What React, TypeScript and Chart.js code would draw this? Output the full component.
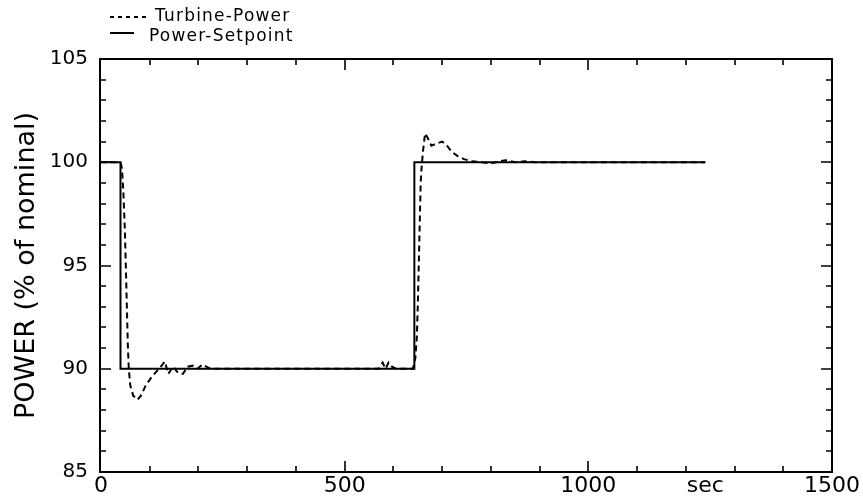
import React, { useEffect, useRef } from "react";
import { Chart, registerables } from "chart.js";

Chart.register(...registerables);

// ---- data ----
const setpointTime = [0, 40, 40, 643, 643, 1240];
const setpointValue = [100, 100, 90, 90, 100, 100];

const turbineTime = [
  0, 40, 43, 46, 49, 52, 55, 57, 60, 66, 75, 82, 92, 104, 115, 126, 131, 138,
  148, 158, 168, 178, 188, 198, 208, 225, 570, 578, 584, 590, 597, 605, 640,
  645, 648, 650, 652, 654, 656, 658, 661, 665, 670, 678, 688, 700, 710, 720,
  732, 745, 760, 780, 800, 830, 850, 870, 890, 1240,
];
const turbineValue = [
  100, 100, 99.7, 98.5, 96.7, 94, 91.2, 90, 89.2, 88.7, 88.5, 88.7, 89.2, 89.6,
  89.9, 90.2, 90.35, 89.75, 90.1, 89.8, 89.75, 90.1, 90.15, 90.0, 90.2, 90.0,
  90.0, 90.3, 90.0, 90.3, 90.1, 90.0, 90.0, 90.5, 91.5, 93, 95, 97, 99, 99.8,
  100.6, 101.4, 101.2, 100.8, 100.9, 101.0, 100.8, 100.5, 100.3, 100.15,
  100.05, 100.0, 99.95, 100.1, 100.0, 100.05, 100.0, 100.0,
];

const xTickValues = [0, 500, 1000, 1240, 1500];
const xTickLabels = ["0", "500", "1000", "sec", "1500"];
const yTickValues = [85, 90, 95, 100, 105];
const legendLabels = ["Turbine-Power", "Power-Setpoint"];
const yAxisTitle = "POWER (% of nominal)";

const FONT = "'DejaVu Sans', 'Liberation Sans', sans-serif";

const framePlugin = {
  id: "frameTicksLegend",
  afterDraw(chart: any) {
    const { ctx, chartArea, scales } = chart;
    const { left, right, top, bottom } = chartArea;
    const xs = scales.x;
    const ys = scales.y;
    ctx.save();
    ctx.strokeStyle = "#000";
    ctx.lineWidth = 2;
    ctx.setLineDash([]);
    ctx.strokeRect(left - 1, top, right - left + 1, bottom - top);

    ctx.lineWidth = 1.6;
    ctx.beginPath();
    for (let v = 100; v < 1500; v += 100) {
      const px = Math.round(xs.getPixelForValue(v));
      const len = v % 500 === 0 ? 11 : 6;
      ctx.moveTo(px, bottom);
      ctx.lineTo(px, bottom - len);
      ctx.moveTo(px, top);
      ctx.lineTo(px, top + len);
    }
    for (let v = 86; v < 105; v += 1) {
      const py = Math.round(ys.getPixelForValue(v));
      const len = v % 5 === 0 ? 11 : 6;
      ctx.moveTo(left - 1, py);
      ctx.lineTo(left - 1 + len, py);
      ctx.moveTo(right, py);
      ctx.lineTo(right - len, py);
    }
    ctx.stroke();

    // legend
    ctx.lineWidth = 2;
    ctx.setLineDash([4, 4]);
    ctx.beginPath();
    ctx.moveTo(110, 17);
    ctx.lineTo(148, 17);
    ctx.stroke();
    ctx.setLineDash([]);
    ctx.beginPath();
    ctx.moveTo(110, 33);
    ctx.lineTo(134, 33);
    ctx.stroke();
    ctx.fillStyle = "#000";
    ctx.font = `17px ${FONT}`;
    (ctx as any).letterSpacing = "1.2px";
    ctx.textBaseline = "alphabetic";
    ctx.textAlign = "left";
    ctx.fillText(legendLabels[0], 155, 21);
    ctx.fillText(legendLabels[1], 149, 41);
    ctx.restore();
  },
};

export default function App() {
  const canvasRef = useRef<HTMLCanvasElement | null>(null);

  useEffect(() => {
    document.body.style.margin = "0";
    const canvas = canvasRef.current;
    if (!canvas) return;
    const chart = new Chart(canvas, {
      type: "line",
      data: {
        datasets: [
          {
            label: legendLabels[1],
            data: setpointTime.map((t, i) => ({ x: t, y: setpointValue[i] })),
            borderColor: "#000",
            borderWidth: 2,
            pointRadius: 0,
            tension: 0,
            fill: false,
          },
          {
            label: legendLabels[0],
            data: turbineTime.map((t, i) => ({ x: t, y: turbineValue[i] })),
            borderColor: "#000",
            borderWidth: 2,
            borderDash: [6, 4],
            pointRadius: 0,
            tension: 0,
            fill: false,
          },
        ],
      },
      options: {
        animation: false,
        responsive: false,
        maintainAspectRatio: false,
        layout: { padding: { top: 59, right: 31, left: 0, bottom: 0 } },
        plugins: {
          legend: { display: false },
          tooltip: { enabled: false },
        },
        scales: {
          x: {
            type: "linear",
            min: 0,
            max: 1500,
            grid: { display: false, drawTicks: false, tickLength: 0 },
            border: { display: false },
            afterBuildTicks: (s: any) => {
              s.ticks = xTickValues.map((v) => ({ value: v }));
            },
            afterFit: (s: any) => {
              s.height = 27;
            },
            ticks: {
              autoSkip: false,
              maxRotation: 0,
              padding: 1,
              color: "#000",
              font: { family: FONT, size: 22 },
              callback: (value: any) => {
                const i = xTickValues.indexOf(Number(value));
                return i >= 0 ? xTickLabels[i] : "";
              },
            },
          },
          y: {
            type: "linear",
            min: 85,
            max: 105,
            grid: { display: false, drawTicks: false, tickLength: 0 },
            border: { display: false },
            afterBuildTicks: (s: any) => {
              s.ticks = yTickValues.map((v) => ({ value: v }));
            },
            afterFit: (s: any) => {
              s.width = 101;
            },
            ticks: {
              autoSkip: false,
              padding: 13,
              color: "#000",
              font: { family: FONT, size: 20 },
              callback: (value: any) => String(value),
            },
            title: {
              display: true,
              text: yAxisTitle,
              color: "#000",
              font: { family: FONT, size: 27, weight: "normal" },
              padding: { top: 11, bottom: 0 },
            },
          },
        },
      },
      plugins: [framePlugin],
    });
    return () => chart.destroy();
  }, []);

  return (
    <div style={{ width: 863, height: 499, background: "#fff" }}>
      <canvas ref={canvasRef} width={863} height={499} />
    </div>
  );
}
